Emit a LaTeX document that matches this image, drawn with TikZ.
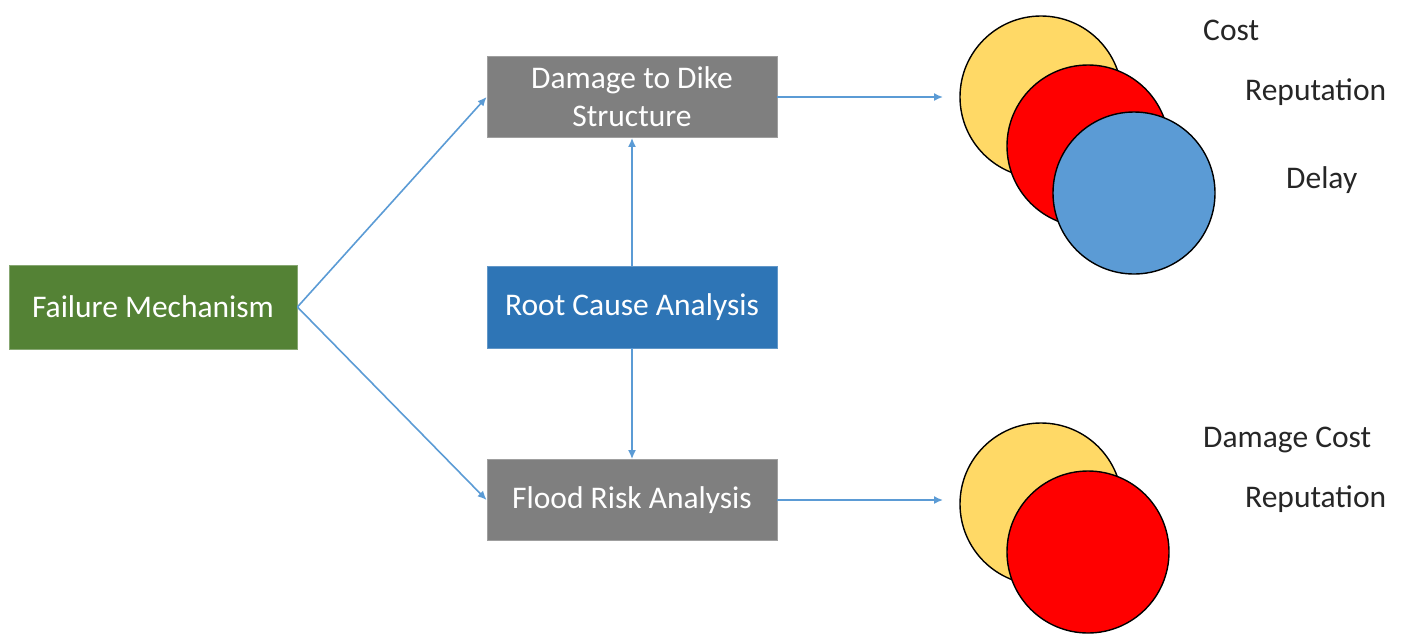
\documentclass[tikz,border=0pt]{standalone}
\usepackage{fontspec}
\setmainfont{Carlito}
\usetikzlibrary{arrows.meta}
\definecolor{boxgreen}{HTML}{548235}
\definecolor{boxgray}{HTML}{7F7F7F}
\definecolor{boxblue}{HTML}{2E75B6}
\definecolor{linkblue}{HTML}{5B9BD5}
\definecolor{discyellow}{HTML}{FFD966}
\definecolor{discred}{HTML}{FF0000}
\definecolor{discblue}{HTML}{5B9BD5}
\definecolor{labeltext}{HTML}{262626}
\tikzset{
  procbox/.style={rectangle, minimum width=290pt, minimum height=81pt, inner sep=0pt,
    text=white, align=center, font=\fontsize{31.5}{38}\selectfont, line width=0.8pt},
  link/.style={draw=linkblue, line width=1.6pt, -{Latex[length=9pt,width=8pt]}},
  disc/.style={circle, draw=black, line width=1.4pt, minimum size=162pt, inner sep=0pt},
  tag/.style={anchor=base west, text=labeltext, font=\fontsize{31.5}{38}\selectfont, inner sep=0pt}
}
\begin{document}
\begin{tikzpicture}[x=1pt, y=-1pt]
\useasboundingbox (0,0) rectangle (1406,633);

% process boxes
\node[procbox, fill=boxgreen, draw=boxgreen!70!white, minimum width=288pt, minimum height=84pt] (fm) at (153,307) {Failure Mechanism};
\node[procbox, fill=boxgray, draw=boxgray!75!white] (dd) at (632,97) {Damage to Dike\\Structure};
\node[procbox, fill=boxblue, draw=boxblue!75!white, minimum height=82pt] (rc) at (632,307) {Root Cause Analysis};
\node[procbox, fill=boxgray, draw=boxgray!75!white] (fr) at (632,500) {Flood Risk Analysis};

% consequence discs, upper group
\node[disc, fill=discyellow] (c1) at (1041,97) {};
\node[disc, fill=discred] (c2) at (1088,146) {};
\node[disc, fill=discblue] (c3) at (1134,193) {};

% consequence discs, lower group
\node[disc, fill=discyellow] (d1) at (1041,504) {};
\node[disc, fill=discred] (d2) at (1088,552) {};

% free ends of the horizontal arrows
\coordinate (ta) at (943,97);
\coordinate (tb) at (943,500);

% connectors
\draw[link] (fm.east) -- (dd.west);
\draw[link] (fm.east) -- (fr.west);
\draw[link] (rc.north) -- (dd.south);
\draw[link] (rc.south) -- (fr.north);
\draw[link] (dd.east) -- (ta);
\draw[link] (fr.east) -- (tb);

% consequence labels
\node[tag] (l1) at (1203,40) {Cost};
\node[tag] (l2) at (1245,100) {Reputation};
\node[tag] (l3) at (1286,188) {Delay};
\node[tag] (l4) at (1203,447) {Damage Cost};
\node[tag] (l5) at (1245,507) {Reputation};
\end{tikzpicture}
\end{document}
